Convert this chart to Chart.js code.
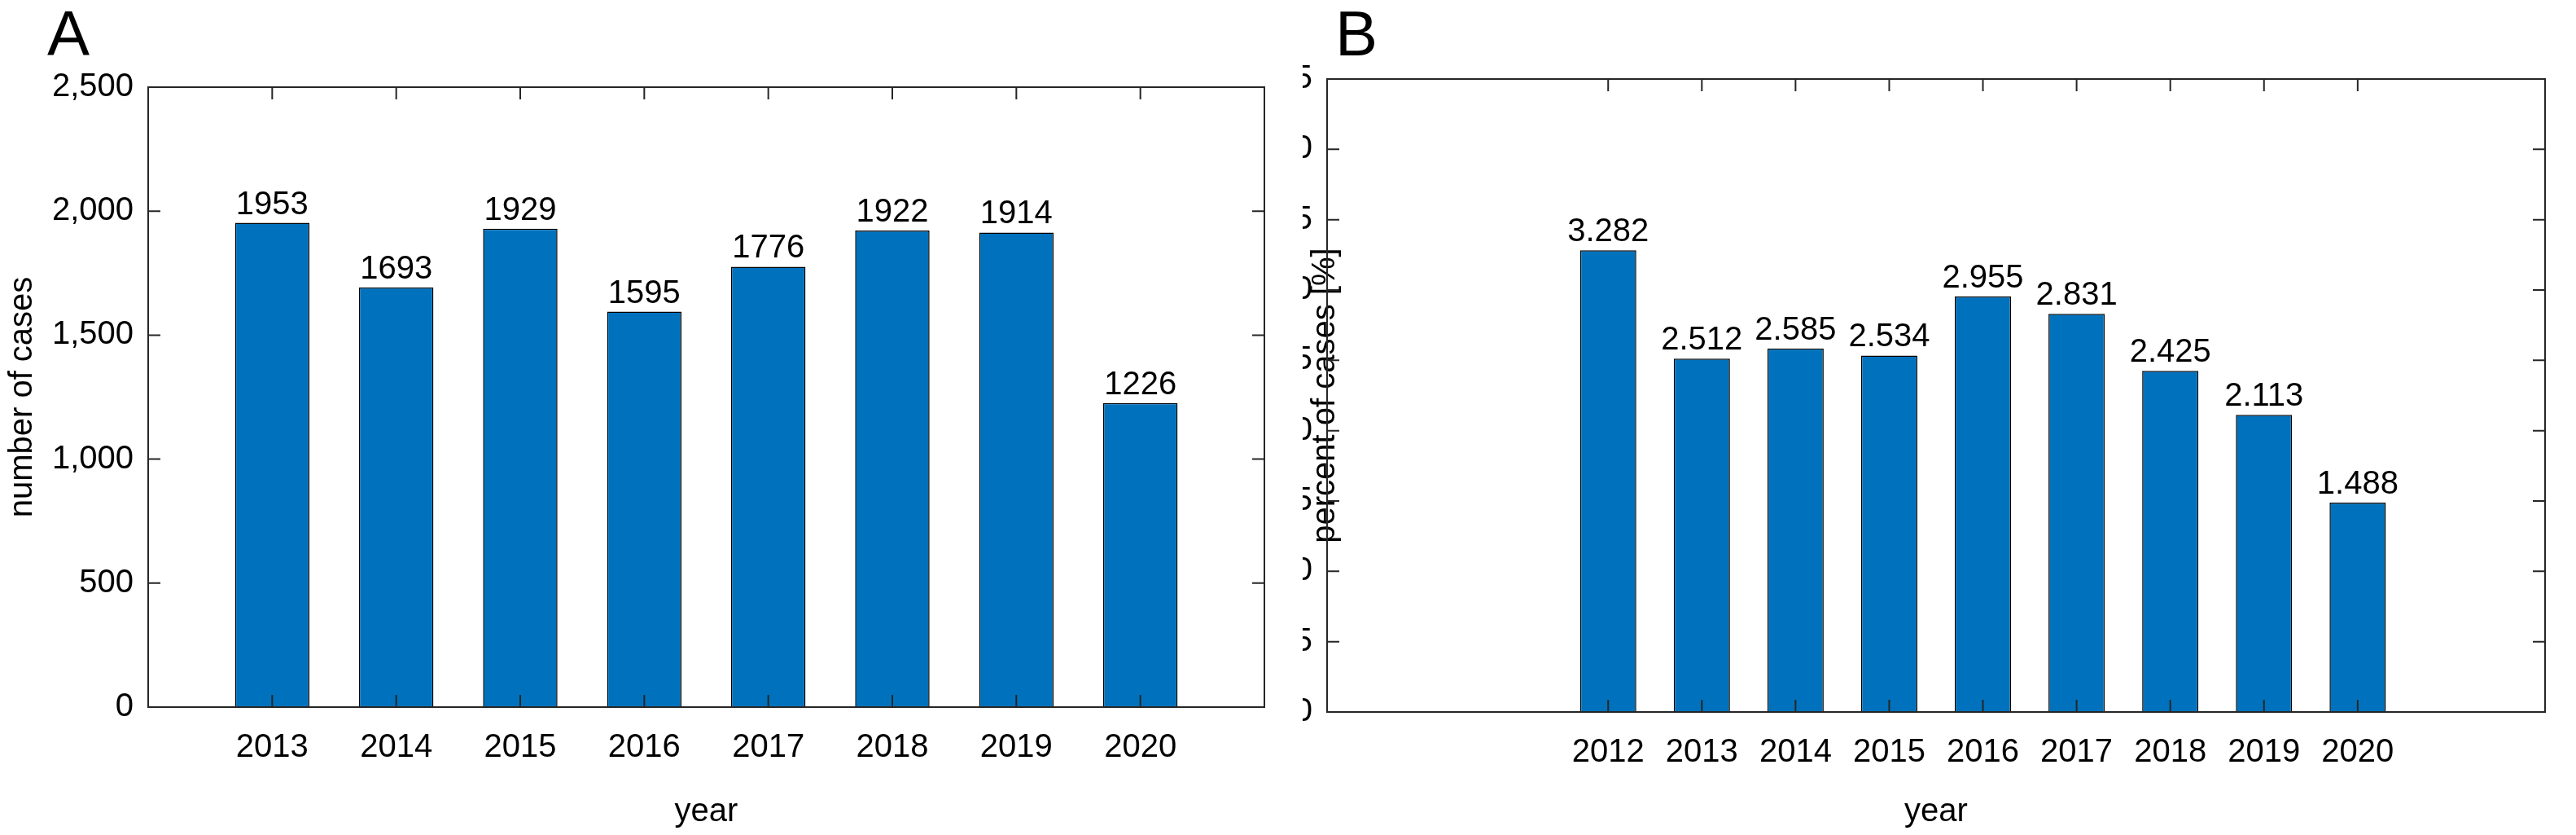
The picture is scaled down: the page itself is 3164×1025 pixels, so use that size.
<!DOCTYPE html>
<html><head><meta charset="utf-8">
<script src="https://cdn.jsdelivr.net/npm/chart.js@4"></script>
<style>
html,body{margin:0;padding:0;background:#fff;width:3164px;height:1025px;overflow:hidden;font-family:"Liberation Sans",Arial,sans-serif}
.box{position:absolute;top:0;height:1025px}
.lab{position:absolute;font-size:78px;color:#000}
</style></head><body>
<div class="box" style="left:0;width:1600px"><canvas id="a"></canvas></div>
<div class="box" style="left:1600px;width:1564px"><canvas id="b"></canvas></div>
<div class="lab" style="left:58px;top:-4px">A</div>
<div class="lab" style="left:1640px;top:-4px">B</div>
<script>
const yearsA = ['2012','2013','2014','2015','2016','2017','2018','2019','2020','2021'];
const casesA = [null,1953,1693,1929,1595,1776,1922,1914,1226,null];
const yearsB = ['2009','2010','2011','2012','2013','2014','2015','2016','2017','2018','2019','2020','2021','2022'];
const percentB = [null,null,null,3.282,2.512,2.585,2.534,2.955,2.831,2.425,2.113,1.488,null,null];
const shownA = ['2013','2014','2015','2016','2017','2018','2019','2020'];
const shownB = ['2012','2013','2014','2015','2016','2017','2018','2019','2020'];
const labelsA = ['1953','1693','1929','1595','1776','1922','1914','1226'];
const labelsB = ['3.282','2.512','2.585','2.534','2.955','2.831','2.425','2.113','1.488'];

const FONT = '"Liberation Sans", Arial, sans-serif';
Chart.defaults.font.family = FONT;
Chart.defaults.color = '#000';
Chart.defaults.devicePixelRatio = 1;

const boxPlugin = {
  id:'box',
  afterDatasetsDraw(chart, args, opts){
    const {ctx, chartArea:ca, scales:{x,y}} = chart;
    ctx.save();
    ctx.strokeStyle='#262626'; ctx.lineWidth=2;
    ctx.strokeRect(ca.left, ca.top, ca.right-ca.left, ca.bottom-ca.top);
    const L=15;
    ctx.beginPath();
    y.ticks.forEach(t=>{const p=y.getPixelForValue(t.value);
      ctx.moveTo(ca.left,p);ctx.lineTo(ca.left+L,p);ctx.moveTo(ca.right,p);ctx.lineTo(ca.right-L,p);});
    x.ticks.forEach((t,i)=>{ if(!opts.shown.includes(chart.data.labels[t.value])) return;
      const p=x.getPixelForValue(t.value);
      ctx.moveTo(p,ca.bottom);ctx.lineTo(p,ca.bottom-L);ctx.moveTo(p,ca.top);ctx.lineTo(p,ca.top+L);});
    ctx.stroke();
    // value labels
    ctx.fillStyle='#000'; ctx.font='40px '+FONT; ctx.textAlign='center'; ctx.textBaseline='bottom';
    const meta = chart.getDatasetMeta(0); let k=0;
    meta.data.forEach((bar,i)=>{ const v=chart.data.datasets[0].data[i]; if(v==null) return;
      ctx.fillText(opts.labels[k++], bar.x, bar.y-2);});
    ctx.restore();
  }
};

function make(id, labels, data, shown, vlabels, ymax, step, ytitle, lay){
  new Chart(document.getElementById(id), {
    type:'bar',
    data:{labels, datasets:[{data, backgroundColor:'#0072BD', borderColor:'#000', borderWidth:1.5,
      barPercentage:0.6, categoryPercentage:1}]},
    options:{
      responsive:true, maintainAspectRatio:false, animation:false,
      layout:{padding:{top:lay.top,right:lay.right,left:0,bottom:0}},
      plugins:{legend:{display:false}, tooltip:{enabled:false}, box:{shown, labels:vlabels}},
      scales:{
        x:{offset:false, grid:{display:false}, border:{display:false},
          ticks:{font:{size:40}, maxRotation:0, autoSkip:false, padding:18,
            callback(v){const l=this.getLabelForValue(v); return shown.includes(l)?l:'';}},
          title:{display:true, text:'year', font:{size:40}, padding:{top:10}},
          afterFit(s){s.height=lay.bottom;}},
        y:{min:0, max:ymax, grid:{display:false}, border:{display:false},
          ticks:{stepSize:step, font:{size:40}, padding:10},
          title:{display:true, text:ytitle, font:{size:40}, padding:{bottom:4}},
          afterFit(s){s.width=lay.left;}}
      }
    },
    plugins:[boxPlugin]
  });
}
make('a', yearsA, casesA, shownA, labelsA, 2500, 500, 'number of cases', {top:107,right:47,bottom:157,left:182});
make('b', yearsB, percentB, shownB, labelsB, 4.5, 0.5, 'percent of cases [%]', {top:97,right:38,bottom:151,left:30});
</script></body></html>
